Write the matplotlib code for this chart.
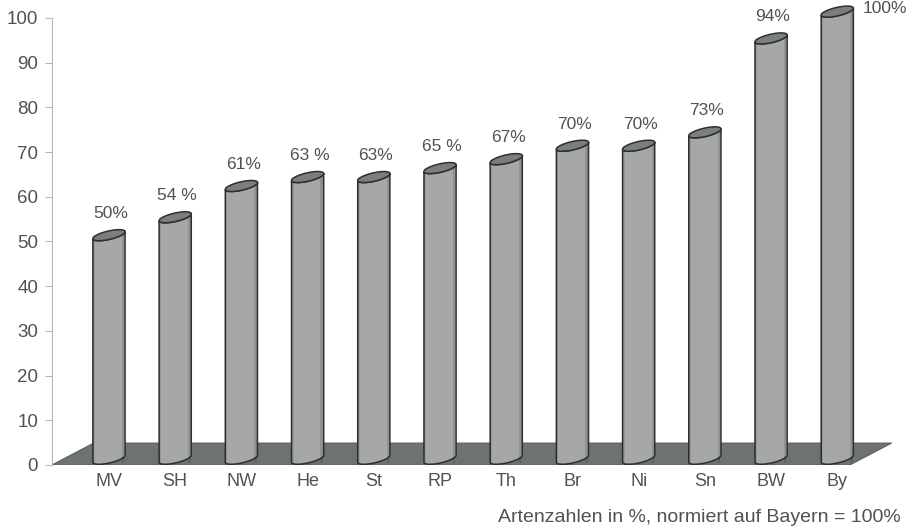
import numpy as np
import matplotlib
matplotlib.use("Agg")
import matplotlib.pyplot as plt
import matplotlib.transforms as mtransforms
from matplotlib.patches import Polygon

plt.rcParams['font.family'] = ['Liberation Sans', 'DejaVu Sans']

laender = ['MV', 'SH', 'NW', 'He', 'St', 'RP', 'Th', 'Br', 'Ni', 'Sn', 'BW', 'By']
prozent = [50, 54, 61, 63, 63, 65, 67, 70, 70, 73, 94, 100]
prozent_text = ['50%', '54 %', '61%', '63 %', '63%', '65 %', '67%', '70%', '70%', '73%', '94%', '100%']
yticks = [0, 10, 20, 30, 40, 50, 60, 70, 80, 90, 100]
caption = 'Artenzahlen in %, normiert auf Bayern = 100%'

text_col = '#505250'
body_col = '#a5a8a5'
top_col = '#7a7f7b'
edge_col = '#2e302e'
floor_col = '#6d736f'

fig = plt.figure(figsize=(9.15, 5.29), dpi=100)
ax = fig.add_axes([0.0568, 0.121, 0.927, 0.879])
ax.set_xlim(-0.861, 11.95)
ax.set_ylim(0, 104)

# floor (oblique 3D plane)
depth_x, depth_y = 0.63, 4.9
floor = Polygon([(-0.861, 0), (11.19, 0), (11.19 + depth_x, depth_y), (-0.861 + depth_x, depth_y)],
                closed=True, facecolor=floor_col, edgecolor='#5a605c', lw=0.8, zorder=1)
ax.add_patch(floor)

base = 1.4
a_in = 0.165     # half width of cylinder, inches
b_in = 0.042     # half height of ellipse, inches
phi = np.deg2rad(13)
t = np.linspace(0, 2 * np.pi, 80)
ex = a_in * np.cos(t) * np.cos(phi) - b_in * np.sin(t) * np.sin(phi)
ey = a_in * np.cos(t) * np.sin(phi) + b_in * np.sin(t) * np.cos(phi)
px_per_unit = ax.transData.transform((0, 1))[1] - ax.transData.transform((0, 0))[1]

for i, v in enumerate(prozent):
    top = base + v
    h_in = (top - base) * px_per_unit / fig.dpi
    trans = fig.dpi_scale_trans + mtransforms.ScaledTranslation(i, base, ax.transData)
    # lower half of the ellipse, left to right
    tl = np.linspace(np.pi, 2 * np.pi, 40)
    lx = a_in * np.cos(tl) * np.cos(phi) - b_in * np.sin(tl) * np.sin(phi)
    ly = a_in * np.cos(tl) * np.sin(phi) + b_in * np.sin(tl) * np.cos(phi)
    body = np.concatenate([np.column_stack([lx, ly]),
                           np.column_stack([lx[::-1], ly[::-1] + h_in])])
    ax.add_patch(Polygon(body, closed=True, transform=trans, facecolor=body_col,
                         edgecolor=edge_col, lw=1.1, zorder=3))
    # shading strips on the body
    for frac, alpha in [(0.78, 0.12), (-0.85, 0.08)]:
        sx = frac * a_in
        ax.add_patch(Polygon([(sx, -b_in), (sx + 0.15 * a_in * np.sign(frac), -b_in),
                              (sx + 0.15 * a_in * np.sign(frac), h_in), (sx, h_in)],
                             closed=True, transform=trans, facecolor='black',
                             alpha=alpha, lw=0, zorder=3))
    ax.add_patch(Polygon(np.column_stack([ex, ey + h_in]), closed=True, transform=trans,
                         facecolor=top_col, edgecolor=edge_col, lw=1.1, zorder=4))
    if i == len(prozent) - 1:
        ax.text(i + 0.38, top + 0.8, prozent_text[i], ha='left', va='center',
                fontsize=12.5, color=text_col)
    else:
        ax.text(i + 0.03, top + 4.8, prozent_text[i], ha='center', va='center',
                fontsize=12.5, color=text_col)

ax.set_xticks(range(len(laender)))
ax.set_xticklabels(laender, fontsize=13, color=text_col)
ax.tick_params(axis='x', length=0, pad=6)
ax.set_yticks(yticks)
ax.set_yticklabels([str(y) for y in yticks], fontsize=13.5, color=text_col)
ax.tick_params(axis='y', length=5, color='#b8b8b8', pad=5)

for s in ['top', 'right', 'bottom']:
    ax.spines[s].set_visible(False)
ax.spines['left'].set_color('#b8b8b8')
ax.spines['left'].set_bounds(0, 100)

fig.text(0.984, 0.022, caption, ha='right', va='center', fontsize=14, color=text_col)

fig.savefig('out.png', dpi=100)
